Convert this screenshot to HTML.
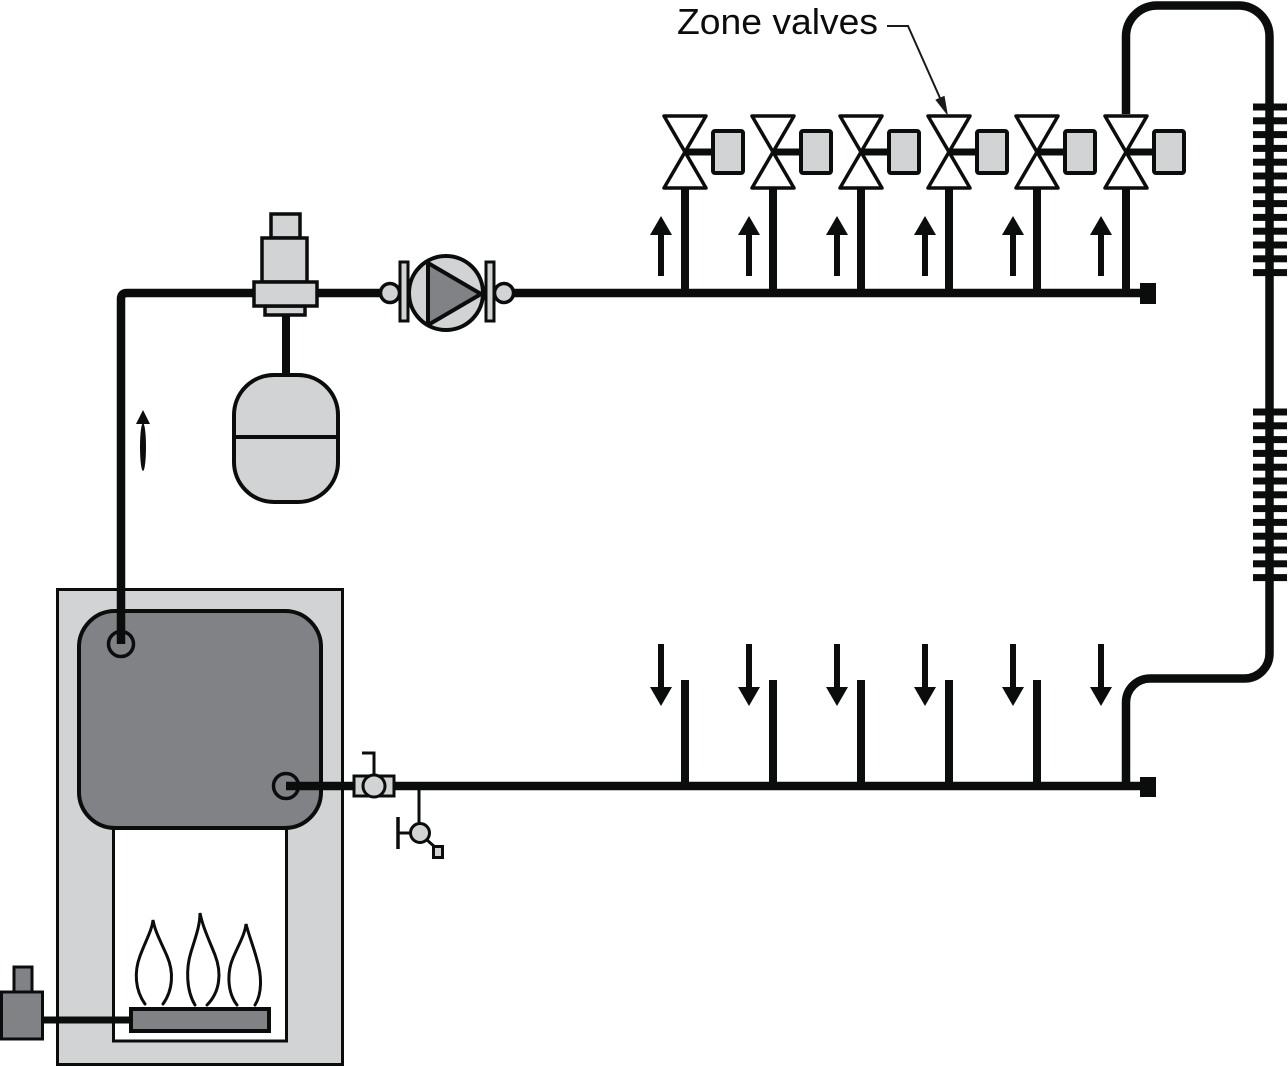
<!DOCTYPE html>
<html><head><meta charset="utf-8"><style>
html,body{margin:0;padding:0;background:#fff;}
svg{display:block;}
</style></head><body>
<svg width="1288" height="1067" viewBox="0 0 1288 1067" xmlns="http://www.w3.org/2000/svg">
<!-- Boiler -->
<rect x="57.5" y="589.5" width="285" height="475" fill="#d1d3d4" stroke="#0b0c0c" stroke-width="3"/>
<rect x="113.5" y="810" width="173" height="231" fill="#fff" stroke="#0b0c0c" stroke-width="3"/>
<rect x="79" y="611" width="242" height="217" rx="36" ry="36" fill="#808285" stroke="#0b0c0c" stroke-width="4"/>
<!-- burner -->
<rect x="131" y="1009" width="138" height="22" fill="#808285" stroke="#0b0c0c" stroke-width="4"/>
<line x1="42" y1="1020" x2="131" y2="1020" stroke="#0b0c0c" stroke-width="7"/>
<rect x="14" y="967" width="18" height="25" fill="#808285" stroke="#0b0c0c" stroke-width="3"/>
<rect x="1.5" y="992" width="41" height="47" fill="#808285" stroke="#0b0c0c" stroke-width="3"/>
<!-- flames -->
<g fill="none" stroke="#0b0c0c" stroke-width="3" stroke-linecap="round">
<path d="M145,1004 C135,990 134,972 140,956 C146,940 152,930 153,920 C155,932 162,944 167,956 C174,972 173,990 163,1004"/>
<path d="M195,1005 C186,990 186,968 191,952 C196,936 200,925 200,913 C203,928 210,942 215,955 C222,973 220,992 207,1005"/>
<path d="M237,1005 C227,992 227,972 233,958 C239,944 245,934 246,924 C249,936 254,948 257,960 C262,976 262,994 255,1005"/>
</g>
<!-- boiler connection circles -->
<circle cx="121" cy="644" r="12.5" fill="#808285" stroke="#0b0c0c" stroke-width="3.5"/>
<circle cx="286" cy="786" r="12.5" fill="#808285" stroke="#0b0c0c" stroke-width="3.5"/>

<!-- Supply pipe -->
<path d="M121,644 V299 Q121,293 127,293 H1141" fill="none" stroke="#0b0c0c" stroke-width="8.5"/>
<rect x="1140" y="283" width="16" height="21" fill="#0b0c0c"/>
<!-- Return pipe -->
<line x1="286" y1="786" x2="1141" y2="786" stroke="#0b0c0c" stroke-width="8.5"/>
<rect x="1140" y="777" width="16" height="20" fill="#0b0c0c"/>

<!-- Flow arrow near left pipe -->
<polygon points="136,424 150,424 143,410" fill="#0b0c0c"/>
<ellipse cx="143" cy="447" rx="3" ry="24" fill="#0b0c0c"/>

<!-- Air separator -->
<rect x="282" y="312" width="8" height="64" fill="#0b0c0c"/>
<rect x="271" y="214" width="29" height="24" fill="#d1d3d4" stroke="#0b0c0c" stroke-width="3.5"/>
<rect x="262" y="238" width="45" height="44" fill="#d1d3d4" stroke="#0b0c0c" stroke-width="3.5"/>
<rect x="265" y="306" width="40" height="9" fill="#d1d3d4" stroke="#0b0c0c" stroke-width="3.5"/>
<rect x="254" y="282" width="63" height="24" fill="#d1d3d4" stroke="#0b0c0c" stroke-width="3.5"/>
<!-- Expansion tank -->
<rect x="234" y="375" width="104" height="127" rx="40" ry="40" fill="#d1d3d4" stroke="#0b0c0c" stroke-width="4"/>
<line x1="234" y1="437" x2="338" y2="437" stroke="#0b0c0c" stroke-width="4"/>

<!-- Pump -->
<rect x="400" y="262" width="8" height="59" fill="#d1d3d4" stroke="#0b0c0c" stroke-width="3"/>
<rect x="486" y="262" width="8" height="59" fill="#d1d3d4" stroke="#0b0c0c" stroke-width="3"/>
<circle cx="390" cy="293" r="9.5" fill="#d1d3d4" stroke="#0b0c0c" stroke-width="3.5"/>
<circle cx="504" cy="293" r="9.5" fill="#d1d3d4" stroke="#0b0c0c" stroke-width="3.5"/>
<circle cx="446" cy="293" r="37" fill="#d1d3d4" stroke="#0b0c0c" stroke-width="4"/>
<polygon points="428,263 428,325 481,294" fill="#808285" stroke="#0b0c0c" stroke-width="4" stroke-linejoin="round"/>

<!-- Zone valves -->
<g id="valves">
<g transform="translate(685,0)">
 <rect x="-4" y="186" width="8" height="107" fill="#0b0c0c"/>
 <rect x="0" y="148.5" width="29" height="7" fill="#0b0c0c"/>
 <polygon points="-21,116 21,116 0,152" fill="#fff" stroke="#0b0c0c" stroke-width="3.5" stroke-linejoin="round"/>
 <polygon points="-21,188 21,188 0,152" fill="#fff" stroke="#0b0c0c" stroke-width="3.5" stroke-linejoin="round"/>
 <rect x="28" y="131" width="30" height="42" rx="2" fill="#d1d3d4" stroke="#0b0c0c" stroke-width="4"/>
 <polygon points="-35,235 -13,235 -24,216" fill="#0b0c0c"/><rect x="-27" y="234" width="6" height="42" fill="#0b0c0c"/>
 <rect x="-27" y="644" width="6" height="44" fill="#0b0c0c"/><polygon points="-35,687 -13,687 -24,706" fill="#0b0c0c"/>
 <rect x="-4" y="680" width="8" height="107" fill="#0b0c0c"/>
</g>
<g transform="translate(773,0)">
 <rect x="-4" y="186" width="8" height="107" fill="#0b0c0c"/>
 <rect x="0" y="148.5" width="29" height="7" fill="#0b0c0c"/>
 <polygon points="-21,116 21,116 0,152" fill="#fff" stroke="#0b0c0c" stroke-width="3.5" stroke-linejoin="round"/>
 <polygon points="-21,188 21,188 0,152" fill="#fff" stroke="#0b0c0c" stroke-width="3.5" stroke-linejoin="round"/>
 <rect x="28" y="131" width="30" height="42" rx="2" fill="#d1d3d4" stroke="#0b0c0c" stroke-width="4"/>
 <polygon points="-35,235 -13,235 -24,216" fill="#0b0c0c"/><rect x="-27" y="234" width="6" height="42" fill="#0b0c0c"/>
 <rect x="-27" y="644" width="6" height="44" fill="#0b0c0c"/><polygon points="-35,687 -13,687 -24,706" fill="#0b0c0c"/>
 <rect x="-4" y="680" width="8" height="107" fill="#0b0c0c"/>
</g>
<g transform="translate(861,0)">
 <rect x="-4" y="186" width="8" height="107" fill="#0b0c0c"/>
 <rect x="0" y="148.5" width="29" height="7" fill="#0b0c0c"/>
 <polygon points="-21,116 21,116 0,152" fill="#fff" stroke="#0b0c0c" stroke-width="3.5" stroke-linejoin="round"/>
 <polygon points="-21,188 21,188 0,152" fill="#fff" stroke="#0b0c0c" stroke-width="3.5" stroke-linejoin="round"/>
 <rect x="28" y="131" width="30" height="42" rx="2" fill="#d1d3d4" stroke="#0b0c0c" stroke-width="4"/>
 <polygon points="-35,235 -13,235 -24,216" fill="#0b0c0c"/><rect x="-27" y="234" width="6" height="42" fill="#0b0c0c"/>
 <rect x="-27" y="644" width="6" height="44" fill="#0b0c0c"/><polygon points="-35,687 -13,687 -24,706" fill="#0b0c0c"/>
 <rect x="-4" y="680" width="8" height="107" fill="#0b0c0c"/>
</g>
<g transform="translate(949,0)">
 <rect x="-4" y="186" width="8" height="107" fill="#0b0c0c"/>
 <rect x="0" y="148.5" width="29" height="7" fill="#0b0c0c"/>
 <polygon points="-21,116 21,116 0,152" fill="#fff" stroke="#0b0c0c" stroke-width="3.5" stroke-linejoin="round"/>
 <polygon points="-21,188 21,188 0,152" fill="#fff" stroke="#0b0c0c" stroke-width="3.5" stroke-linejoin="round"/>
 <rect x="28" y="131" width="30" height="42" rx="2" fill="#d1d3d4" stroke="#0b0c0c" stroke-width="4"/>
 <polygon points="-35,235 -13,235 -24,216" fill="#0b0c0c"/><rect x="-27" y="234" width="6" height="42" fill="#0b0c0c"/>
 <rect x="-27" y="644" width="6" height="44" fill="#0b0c0c"/><polygon points="-35,687 -13,687 -24,706" fill="#0b0c0c"/>
 <rect x="-4" y="680" width="8" height="107" fill="#0b0c0c"/>
</g>
<g transform="translate(1037,0)">
 <rect x="-4" y="186" width="8" height="107" fill="#0b0c0c"/>
 <rect x="0" y="148.5" width="29" height="7" fill="#0b0c0c"/>
 <polygon points="-21,116 21,116 0,152" fill="#fff" stroke="#0b0c0c" stroke-width="3.5" stroke-linejoin="round"/>
 <polygon points="-21,188 21,188 0,152" fill="#fff" stroke="#0b0c0c" stroke-width="3.5" stroke-linejoin="round"/>
 <rect x="28" y="131" width="30" height="42" rx="2" fill="#d1d3d4" stroke="#0b0c0c" stroke-width="4"/>
 <polygon points="-35,235 -13,235 -24,216" fill="#0b0c0c"/><rect x="-27" y="234" width="6" height="42" fill="#0b0c0c"/>
 <rect x="-27" y="644" width="6" height="44" fill="#0b0c0c"/><polygon points="-35,687 -13,687 -24,706" fill="#0b0c0c"/>
 <rect x="-4" y="680" width="8" height="107" fill="#0b0c0c"/>
</g>
<g transform="translate(1126,0)">
 <rect x="-4" y="186" width="8" height="107" fill="#0b0c0c"/>
 <rect x="0" y="148.5" width="29" height="7" fill="#0b0c0c"/>
 <polygon points="-21,116 21,116 0,152" fill="#fff" stroke="#0b0c0c" stroke-width="3.5" stroke-linejoin="round"/>
 <polygon points="-21,188 21,188 0,152" fill="#fff" stroke="#0b0c0c" stroke-width="3.5" stroke-linejoin="round"/>
 <rect x="28" y="131" width="30" height="42" rx="2" fill="#d1d3d4" stroke="#0b0c0c" stroke-width="4"/>
 <polygon points="-36,235 -14,235 -25,216" fill="#0b0c0c"/><rect x="-28" y="234" width="6" height="42" fill="#0b0c0c"/>
 <rect x="-28" y="644" width="6" height="44" fill="#0b0c0c"/><polygon points="-36,687 -14,687 -25,706" fill="#0b0c0c"/>
</g>
</g>

<!-- Radiator loop -->
<path d="M1126,114 V36 A31,31 0 0 1 1157,5.5 H1238 A31,31 0 0 1 1269.5,36 V653 A25,25 0 0 1 1244.5,678.5 H1150 A24,24 0 0 0 1126,702.5 V787" fill="none" stroke="#0b0c0c" stroke-width="8.5"/>
<g fill="#0b0c0c">
<rect x="1253" y="103.5" width="34" height="7"/><rect x="1253" y="117.3" width="34" height="7"/><rect x="1253" y="131.1" width="34" height="7"/><rect x="1253" y="144.9" width="34" height="7"/><rect x="1253" y="158.7" width="34" height="7"/><rect x="1253" y="172.5" width="34" height="7"/><rect x="1253" y="186.3" width="34" height="7"/><rect x="1253" y="200.1" width="34" height="7"/><rect x="1253" y="213.9" width="34" height="7"/><rect x="1253" y="227.7" width="34" height="7"/><rect x="1253" y="241.5" width="34" height="7"/><rect x="1253" y="255.3" width="34" height="7"/><rect x="1253" y="269.1" width="34" height="7"/>
<rect x="1253" y="408.5" width="34" height="7"/><rect x="1253" y="422.3" width="34" height="7"/><rect x="1253" y="436.1" width="34" height="7"/><rect x="1253" y="449.9" width="34" height="7"/><rect x="1253" y="463.7" width="34" height="7"/><rect x="1253" y="477.5" width="34" height="7"/><rect x="1253" y="491.3" width="34" height="7"/><rect x="1253" y="505.1" width="34" height="7"/><rect x="1253" y="518.9" width="34" height="7"/><rect x="1253" y="532.7" width="34" height="7"/><rect x="1253" y="546.5" width="34" height="7"/><rect x="1253" y="560.3" width="34" height="7"/><rect x="1253" y="574.1" width="34" height="7"/>
</g>

<!-- Ball valve on return -->
<polyline points="362,753 374,753 374,775" fill="none" stroke="#0b0c0c" stroke-width="3"/>
<rect x="354" y="776" width="40" height="20" fill="#d1d3d4" stroke="#0b0c0c" stroke-width="3"/>
<circle cx="374" cy="786" r="11" fill="#d1d3d4" stroke="#0b0c0c" stroke-width="3"/>
<!-- Drain -->
<line x1="419" y1="789" x2="419" y2="823" stroke="#0b0c0c" stroke-width="3"/>
<line x1="398" y1="833" x2="410" y2="833" stroke="#0b0c0c" stroke-width="3"/>
<line x1="398" y1="817" x2="398" y2="849" stroke="#0b0c0c" stroke-width="3.5"/>
<line x1="427" y1="840" x2="436" y2="848" stroke="#0b0c0c" stroke-width="3"/>
<circle cx="420" cy="833" r="9.5" fill="#d1d3d4" stroke="#0b0c0c" stroke-width="3"/>
<rect x="433.5" y="846.5" width="9" height="11" fill="#d1d3d4" stroke="#0b0c0c" stroke-width="3"/>

<!-- Label -->
<text x="677" y="34" font-family="Liberation Sans, Arial, sans-serif" font-size="36" fill="#0b0c0c" textLength="201" lengthAdjust="spacingAndGlyphs">Zone valves</text>
<polyline points="887,26 908,26 940,98" fill="none" stroke="#1a1a1a" stroke-width="2"/>
<polygon points="948,116 935.3,99.7 944.5,95.7" fill="#1a1a1a"/>
</svg>
</body></html>
